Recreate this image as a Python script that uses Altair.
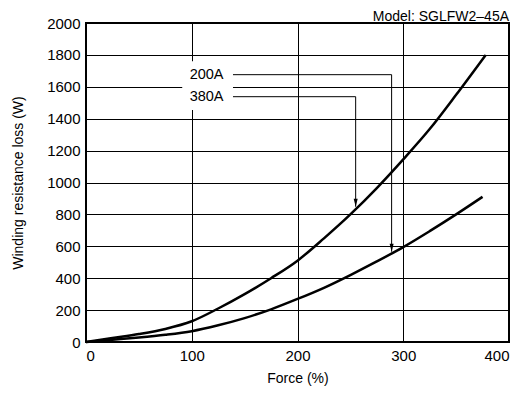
import altair as alt
import pandas as pd

# Curve data
force_380 = [0, 25, 50, 75, 100, 125, 150, 175, 200, 225, 250, 275, 300, 325, 350, 378]
loss_380 = [0, 25, 50, 82, 130, 210, 300, 400, 510, 650, 800, 965, 1145, 1335, 1550, 1800]
force_200 = [0, 25, 50, 75, 100, 125, 150, 175, 200, 225, 250, 275, 300, 325, 350, 375]
loss_200 = [0, 14, 28, 45, 68, 105, 150, 205, 270, 340, 420, 505, 595, 695, 800, 910]

# Tick labels
x_ticks = [0, 100, 200, 300, 400]
y_ticks = [0, 200, 400, 600, 800, 1000, 1200, 1400, 1600, 1800, 2000]

# Annotation data
labels = ["200A", "380A"]
label_x = [98, 98]
label_y = [1676, 1538]
leader_x_end = [289, 255]
leader_y_tip = [566, 848]
leader_x_start = 139
box_x = [91, 139]
box_y = [1455, 1760]

curves = pd.concat([
    pd.DataFrame({"force": force_380, "loss": loss_380, "series": "380A"}),
    pd.DataFrame({"force": force_200, "loss": loss_200, "series": "200A"}),
])

xs = alt.Scale(domain=[0, 400], nice=False)
ys = alt.Scale(domain=[0, 2000], nice=False)
xax = alt.Axis(values=x_ticks, format="d", title="Force (%)")
yax = alt.Axis(values=y_ticks, format="d", labelOverlap=False, title="Winding resistance loss (W)")


def X(f):
    return alt.X(f, scale=xs, axis=xax)


def Y(f):
    return alt.Y(f, scale=ys, axis=yax)


base_font = "Liberation Sans"

lines = alt.Chart(curves).mark_line(color="black", strokeWidth=2.5, interpolate="monotone").encode(
    x=X("force:Q"), y=Y("loss:Q"), detail="series:N",
)

box = alt.Chart(pd.DataFrame({"x": [box_x[0]], "x2": [box_x[1]], "y": [box_y[0]], "y2": [box_y[1]]})).mark_rect(
    fill="white").encode(x=X("x:Q"), x2="x2:Q", y=Y("y:Q"), y2="y2:Q")

leader_rows = []
for i, lab in enumerate(labels):
    leader_rows.append({"lab": lab, "o": 0, "x": leader_x_start, "y": label_y[i]})
    leader_rows.append({"lab": lab, "o": 1, "x": leader_x_end[i], "y": label_y[i]})
    leader_rows.append({"lab": lab, "o": 2, "x": leader_x_end[i], "y": leader_y_tip[i]})
leaders = alt.Chart(pd.DataFrame(leader_rows)).mark_line(color="black", strokeWidth=1).encode(
    x=X("x:Q"), y=Y("y:Q"), detail="lab:N", order="o:Q")

tips = alt.Chart(pd.DataFrame({"x": leader_x_end, "y": leader_y_tip})).mark_point(
    shape="M-0.25,-1L0.25,-1L0,0Z", size=256, filled=True, color="black", opacity=1).encode(
    x=X("x:Q"), y=Y("y:Q"))

texts = alt.Chart(pd.DataFrame({"x": label_x, "y": label_y, "t": labels})).mark_text(
    align="left", baseline="middle", fontSize=14.5, font=base_font, color="black").encode(
    x=X("x:Q"), y=Y("y:Q"), text="t:N")

model = alt.Chart(pd.DataFrame({"t": ["Model: SGLFW2\u201345A"]})).mark_text(
    align="right", baseline="alphabetic", fontSize=14, font=base_font, color="black").encode(
    x=alt.value(423), y=alt.value(-2), text="t:N")

chart = alt.layer(lines, box, leaders, tips, texts, model).properties(
    width=423, height=319,
    autosize=alt.AutoSizeParams(type="none"),
    padding={"left": 78, "top": 15, "right": 10, "bottom": 44},
).configure_view(stroke="black", strokeWidth=2).configure_axis(
    grid=True, gridColor="black", gridWidth=1, gridOpacity=1,
    domain=False, ticks=False,
    labelFont=base_font, labelFontSize=15, labelColor="black", labelPadding=6,
    titleFont=base_font, titleFontSize=14, titleColor="black", titleFontWeight="normal",
).configure_axisY(titlePadding=21).configure_axisX(titlePadding=8)

chart.save("out.html", embed_options={"renderer": "svg", "actions": False})
